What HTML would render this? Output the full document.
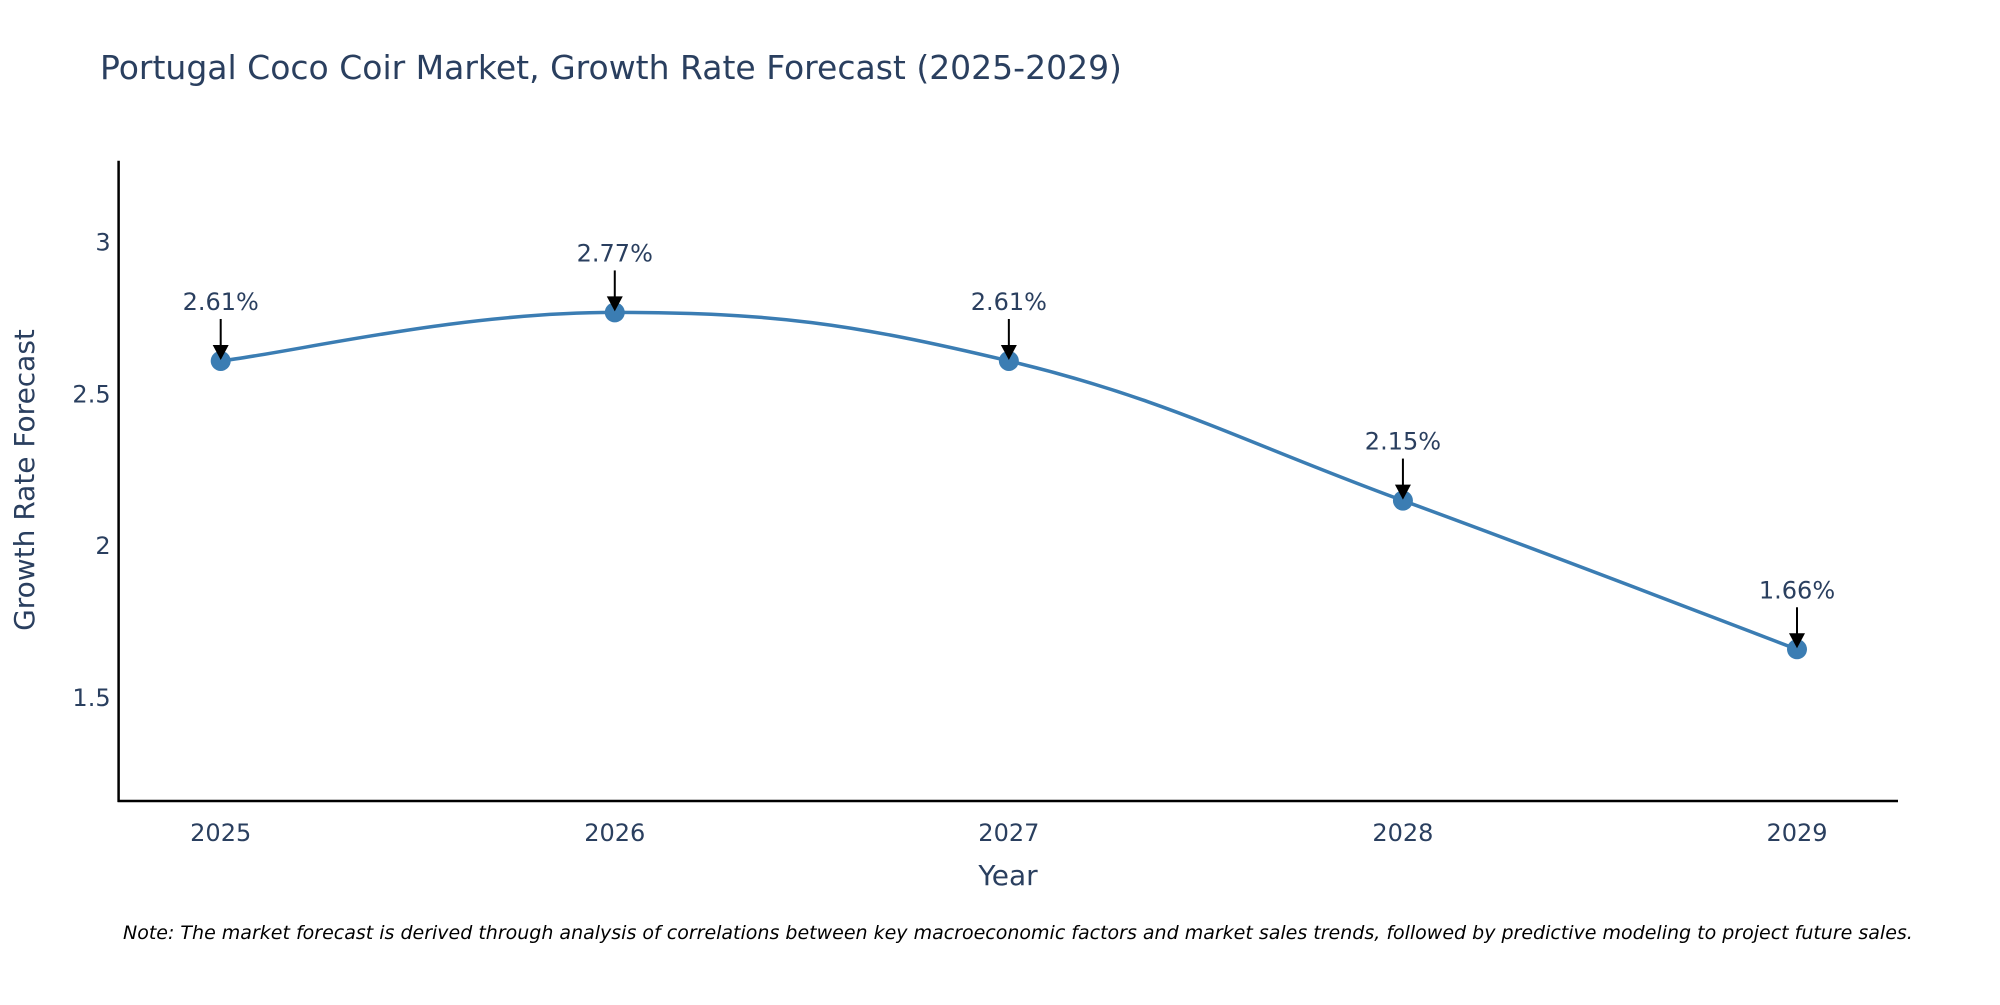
<!DOCTYPE html>
<html><head><meta charset="utf-8"><style>
html,body{margin:0;padding:0;background:#fff;}
svg text{font-family:"DejaVu Sans","Liberation Sans",sans-serif;}
</style></head><body>
<svg id="chart" width="2000" height="1000" viewBox="0 0 2000 1000" xmlns="http://www.w3.org/2000/svg">
<text x="100" y="79" font-size="33" fill="#2a3f5f">Portugal Coco Coir Market, Growth Rate Forecast (2025-2029)</text>
<g id="plot"></g>
<text transform="translate(34,480) rotate(-90)" text-anchor="middle" font-size="28" fill="#2a3f5f">Growth Rate Forecast</text>
<text x="1008" y="885" text-anchor="middle" font-size="28" fill="#2a3f5f">Year</text>
<text x="123" y="939" font-size="19" font-style="italic" fill="#000">Note: The market forecast is derived through analysis of correlations between key macroeconomic factors and market sales trends, followed by predictive modeling to project future sales.</text>
</svg>
<script>
const years = ["2025","2026","2027","2028","2029"];
const growth = [2.61, 2.77, 2.61, 2.15, 1.66];
const labels = ["2.61%","2.77%","2.61%","2.15%","1.66%"];
const yTicks = [1.5, 2, 2.5, 3];
const yTickLabels = ["1.5","2","2.5","3"];

const NS = "http://www.w3.org/2000/svg";
const L = 118.6, R = 1898, T = 160.7, B = 801;
const yMin = 1.16, yMax = 3.27;
const x0 = 220.7, xStep = (1797 - 220.7) / 4;
function xs(i){ return x0 + i * xStep; }
function ys(v){ return B - (v - yMin) / (yMax - yMin) * (B - T); }
const g = document.getElementById('plot');
function mk(tag, attrs){ const e = document.createElementNS(NS, tag); for (const k in attrs) e.setAttribute(k, attrs[k]); g.appendChild(e); return e; }

let ax = mk('line', {x1:L, y1:T, x2:L, y2:B+1, stroke:'#000', 'stroke-width':2.5});


let bx = mk('line', {x1:L-1, y1:B, x2:R, y2:B, stroke:'#000', 'stroke-width':2.5});



yTicks.forEach((v, i) => {
  const t = mk('text', {x:L-8, y:ys(v)+8, 'text-anchor':'end', 'font-size':24, fill:'#2a3f5f'});
  t.textContent = yTickLabels[i];
  
  
});
years.forEach((yr, i) => {
  const t = mk('text', {x:xs(i), y:B+40, 'text-anchor':'middle', 'font-size':24, fill:'#2a3f5f'});
  t.textContent = yr;
  
  
});

const pts = growth.map((v, i) => [xs(i), ys(v)]);
let d = `M${pts[0][0]},${pts[0][1]}`;
const k = 0.2;
for (let i = 0; i < pts.length - 1; i++) {
  const p0 = pts[i-1] || pts[i], p1 = pts[i], p2 = pts[i+1], p3 = pts[i+2] || pts[i+1];
  const c1 = [p1[0] + (p2[0]-p0[0])*k, p1[1] + (p2[1]-p0[1])*k];
  const c2 = [p2[0] - (p3[0]-p1[0])*k, p2[1] - (p3[1]-p1[1])*k];
  d += ` C${c1[0]},${c1[1]} ${c2[0]},${c2[1]} ${p2[0]},${p2[1]}`;
}
const line = mk('path', {d:d, fill:'none', stroke:'#3b7db3', 'stroke-width':3.5});



pts.forEach((p, i) => {
  const c = mk('circle', {cx:p[0], cy:p[1], r:10, fill:'#3b7db3'});
  
  
  const s = mk('line', {x1:p[0], y1:p[1]-42, x2:p[0], y2:p[1]-12, stroke:'#000', 'stroke-width':2});
  
  
  const h = mk('polygon', {points:`${p[0]-8},${p[1]-16} ${p[0]+8},${p[1]-16} ${p[0]},${p[1]-1}`, fill:'#000'});
  
  
  const t = mk('text', {x:p[0], y:p[1]-51, 'text-anchor':'middle', 'font-size':24, fill:'#2a3f5f'});
  t.textContent = labels[i];
  
  
});
</script>
</body></html>
